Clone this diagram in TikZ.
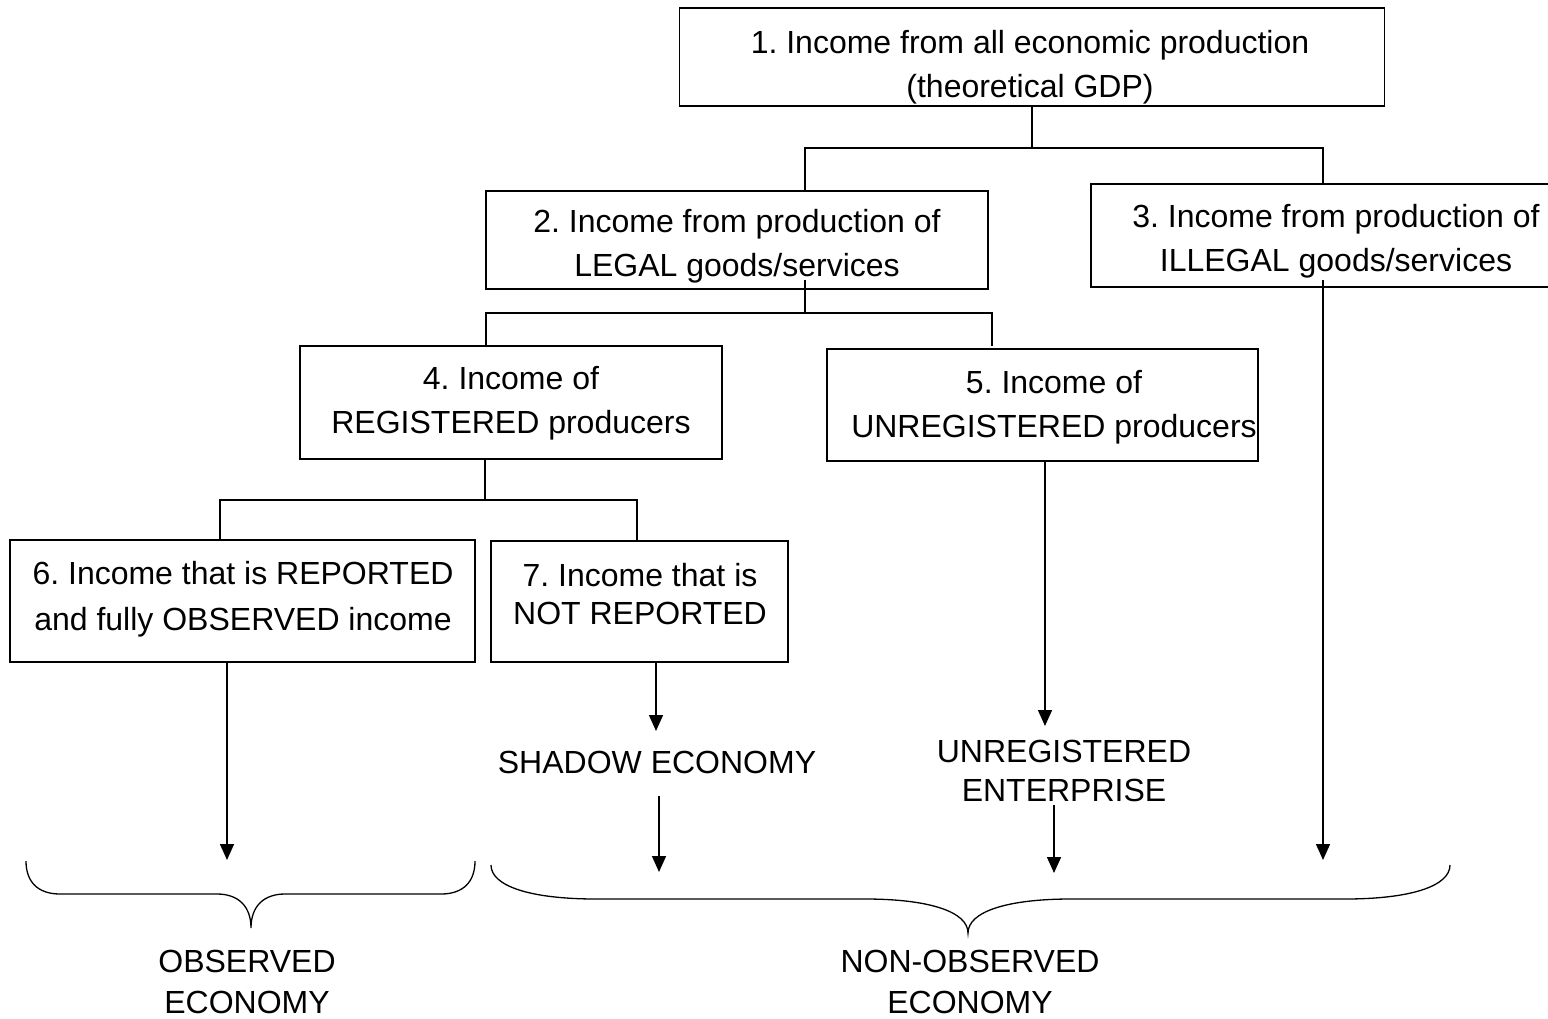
\documentclass[tikz,border=0pt]{standalone}
\usepackage{fontspec}
\setmainfont{Liberation Sans}
\usetikzlibrary{arrows.meta}
\begin{document}
\frenchspacing
\begin{tikzpicture}[x=1pt,y=-1pt,
  box/.style={draw, line width=1.5pt, inner sep=0pt},
  txt/.style={align=center, inner sep=0pt, font=\fontsize{32}{44}\selectfont},
  lbl/.style={align=center, inner sep=0pt, font=\fontsize{32}{41}\selectfont},
  conn/.style={line width=1.5pt},
  arr/.style={line width=1.5pt, -{Triangle[length=16pt,width=14pt]}},
  brace/.style={line width=1.3pt}]
\useasboundingbox (0,0) rectangle (1548,1018);
\fill[white] (0,0) rectangle (1548,1018);
% boxes
\node[box, minimum width=705pt, minimum height=98pt] (b1) at (1032,57) {};
\node[txt] (t1) at (1030,67) {1. Income from all economic production\\(theoretical GDP)};
\node[box, minimum width=502pt, minimum height=98pt] (b2) at (737,240) {};
\node[txt] (t2) at (737,246) {2. Income from production of\\LEGAL goods/services};
\node[box, minimum width=488pt, minimum height=103pt] (b3) at (1335,235.5) {};
\node[txt] (t3) at (1336,241.5) {3. Income from production of\\ILLEGAL goods/services};
\node[box, minimum width=422pt, minimum height=113pt] (b4) at (511,402.5) {};
\node[txt] (t4) at (511,403.5) {4. Income of\\REGISTERED producers};
\node[box, minimum width=431pt, minimum height=112pt] (b5) at (1042.5,405) {};
\node[txt] (t5) at (1054,407) {5. Income of\\UNREGISTERED producers};
\node[box, minimum width=465pt, minimum height=122pt] (b6) at (242.5,601) {};
\node[txt, font=\fontsize{32}{46}\selectfont] (t6) at (243,599) {6. Income that is REPORTED\\and fully OBSERVED income};
\node[box, minimum width=297pt, minimum height=121pt] (b7) at (639.5,601.5) {};
\node[txt, font=\fontsize{32}{38}\selectfont] (t7) at (640,594) {7. Income that is\\NOT REPORTED};
% labels
\node[lbl] (shadow) at (657,762) {SHADOW ECONOMY};
\node[lbl, font=\fontsize{32}{39}\selectfont] (unreg) at (1064,771) {UNREGISTERED\\ENTERPRISE};
\node[lbl] (obs) at (247,982) {OBSERVED\\ECONOMY};
\node[lbl] (nonobs) at (970,982) {NON-OBSERVED\\ECONOMY};
% junction coordinates
\coordinate (j1) at (1032,148);
\coordinate (j2) at (805,313);
\coordinate (j4) at (485,500);
% tree connectors
\draw[conn] (b1.south) -- (j1);
\draw[conn] (j1) -| (b2.north -| j2);
\draw[conn] (j1) -| (b3.north -| 1323,0);
\draw[conn] (805,280) -- (j2);
\draw[conn] (j2) -| (486,346);
\draw[conn] (j2) -| (992,346);
\draw[conn] (b4.south -| j4) -- (j4);
\draw[conn] (j4) -| (b6.north -| 220,0);
\draw[conn] (j4) -| (b7.north -| 637,0);
% arrows
\coordinate (e6) at (227,860);
\coordinate (e7) at (656,731);
\coordinate (e7b) at (659,872);
\coordinate (e5) at (1045,726);
\coordinate (e5b) at (1054,873);
\coordinate (e3) at (1323,860);
\draw[arr] (b6.south -| e6) -- (e6);
\draw[arr] (b7.south -| e7) -- (e7);
\draw[arr] (shadow.south -| e7b) ++(0,22) -- (e7b);
\draw[arr] (b5.south -| e5) ++(0,-1) -- (e5);
\draw[arr] (1054,805) -- (e5b);
\draw[arr] (1323,280) -- (e3);
% braces
\draw[brace] (26,861) .. controls (26,882) and (38,894) .. (60,894)
  -- (217,894) .. controls (238,894) and (251,906) .. (251,928)
  .. controls (251,906) and (264,894) .. (285,894)
  -- (441,894) .. controls (463,894) and (475,882) .. (475,861);
\draw[brace] (491,865) .. controls (491,886) and (530,899) .. (596,899)
  -- (865,899) .. controls (930,899) and (968,912) .. (968,933)
  .. controls (968,912) and (1006,899) .. (1071,899)
  -- (1345,899) .. controls (1411,899) and (1450,886) .. (1450,865);
\end{tikzpicture}
\end{document}
